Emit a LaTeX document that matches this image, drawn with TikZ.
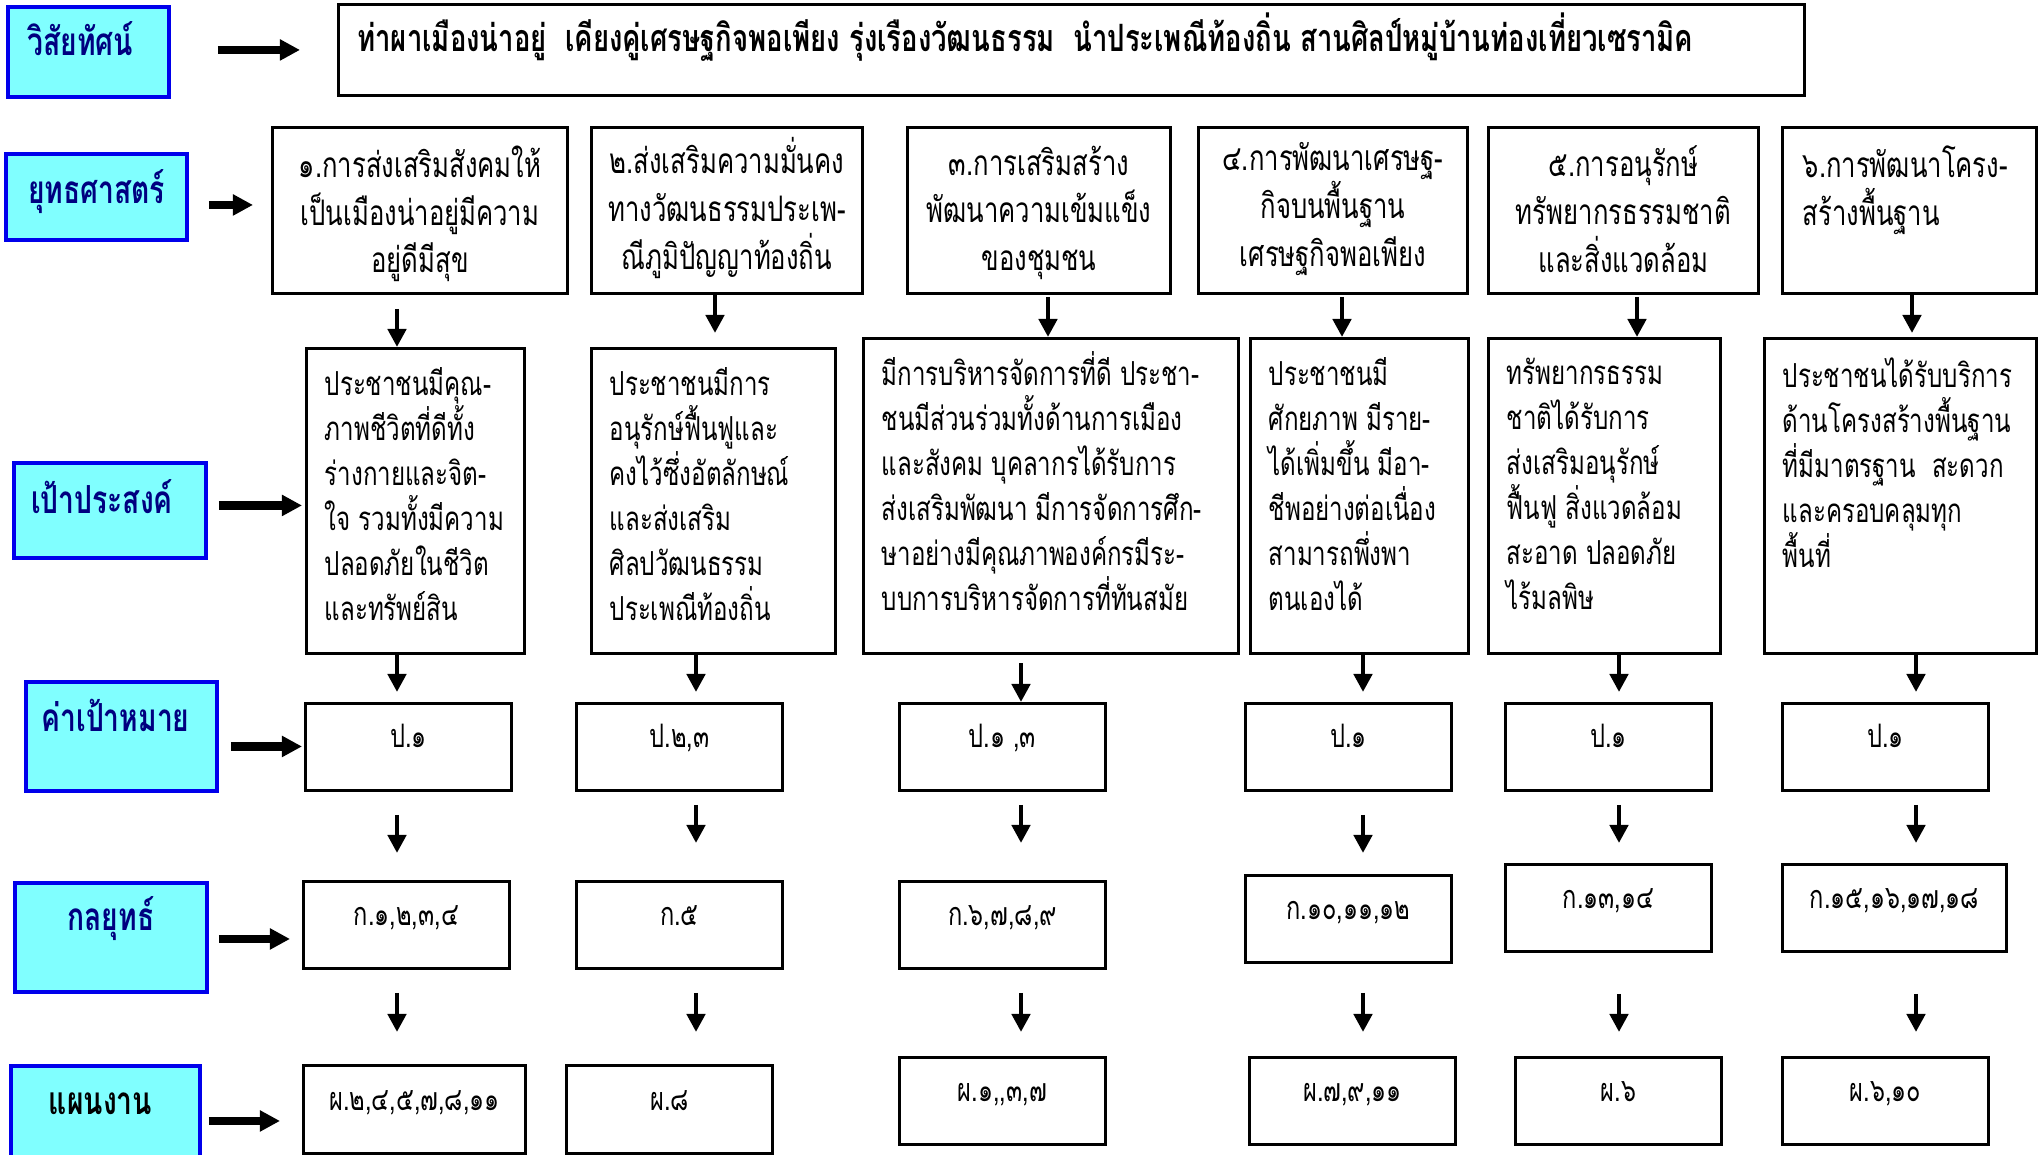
\documentclass[tikz,border=0pt]{standalone}
\usepackage{fontspec}
\newfontfamily\thainarrow[Script=Thai,FakeStretch=0.73]{Loma}
\usepackage{xcolor}
\definecolor{tagcyan}{RGB}{128,255,255}
\definecolor{tagblue}{RGB}{0,0,235}
\definecolor{tagnavy}{RGB}{0,0,128}
\usepackage{tikz}
\usetikzlibrary{arrows.meta}
\newcommand{\heightstrat}{1.66cm}
\newcommand{\heightgoal}{3.15cm}
\newcommand{\widthcode}{2.06cm}
\newcommand{\heightcode}{0.87cm}
\tikzset{
    common/.style={anchor=north west, draw, line width=0.8pt, inner sep=0pt},
    tag/.style={common, draw=tagblue, fill=tagcyan, line width=1.1pt},
    tagtext/.style={font=\thainarrow\bfseries\fontsize{11}{13}\selectfont, text=tagnavy},
    visiontext/.style={font=\thainarrow\bfseries\fontsize{10.7}{12}\selectfont, anchor=west, xshift=0.08cm, yshift=0.13cm},
    stratbox/.style={common, minimum height=\heightstrat},
    strattext/.style={font=\thainarrow\fontsize{10}{13.6}\selectfont, inner sep=0pt, anchor=north, align=center, yshift=-0.19cm,
        execute at begin node={\rule{0pt}{12.5pt}}},
    goalbox/.style={common, minimum height=\heightgoal},
    goaltext/.style={font=\thainarrow\fontsize{9.4}{12.8}\selectfont, inner sep=0pt, anchor=north west, align=left, xshift=0.19cm, yshift=-0.2cm,
        execute at begin node={\rule{0pt}{12pt}}},
    codebox/.style={common, font=\thainarrow\fontsize{9.2}{11}\selectfont, text height=7pt, text depth=6.5pt,
        minimum width=\widthcode, minimum height=\heightcode},
    downarrow/.style={-{Triangle[length=0.18cm, width=0.18cm]}, line width=1.4pt},
    tagarrow/.style={-{Triangle[length=0.2cm, width=0.2cm]}, line width=2.3pt}
}

\begin{document}
\begin{tikzpicture}[x=0.01cm, y=-0.01cm]
    \useasboundingbox (0,0) rectangle (2042,1155);

    % row labels
    \node[tag, minimum width=1.61cm, minimum height=0.90cm, label={[tagtext, xshift=-0.08cm, yshift=0.13cm]center:วิสัยทัศน์}] (tag-vision) at (6,5) {};
    \node[tag, minimum width=1.81cm, minimum height=0.86cm, label={[tagtext, yshift=0.05cm]center:ยุทธศาสตร์}] (tag-strategy) at (4,152) {};
    \node[tag, minimum width=1.92cm, minimum height=0.95cm, label={[tagtext, xshift=-0.08cm, yshift=0.14cm]center:เป้าประสงค์}] (tag-goal) at (12,461) {};
    \node[tag, minimum width=1.91cm, minimum height=1.09cm, label={[tagtext, xshift=-0.06cm, yshift=0.21cm]center:ค่าเป้าหมาย}] (tag-target) at (24,680) {};
    \node[tag, minimum width=1.92cm, minimum height=1.09cm, label={[tagtext, yshift=0.19cm]center:กลยุทธ์}] (tag-tactic) at (13,881) {};
    \node[tag, minimum width=1.89cm, minimum height=1.00cm, label={[tagtext, text=black, xshift=-0.05cm, yshift=0.12cm]center:แผนงาน}] (tag-plan) at (9,1064) {};

    % vision
    \node[common, minimum width=14.65cm, minimum height=0.91cm,
          label={[visiontext]west:ท่าผาเมืองน่าอยู่~ เคียงคู่เศรษฐกิจพอเพียง รุ่งเรืองวัฒนธรรม~ นำประเพณีท้องถิ่น สานศิลป์หมู่บ้านท่องเที่ยวเซรามิค}] (vision) at (337,3) {};

    % strategies
    \node[stratbox, minimum width=2.95cm, label={[strattext]north:{๑.การส่งเสริมสังคมให้\\เป็นเมืองน่าอยู่มีความ\\อยู่ดีมีสุข}}] (strat-1) at (271,126) {};
    \node[stratbox, minimum width=2.71cm, label={[strattext, yshift=0.08cm]north:{๒.ส่งเสริมความมั่นคง\\ทางวัฒนธรรมประเพ-\\ณีภูมิปัญญาท้องถิ่น}}] (strat-2) at (590,126) {};
    \node[stratbox, minimum width=2.63cm, label={[strattext]north:{๓.การเสริมสร้าง\\พัฒนาความเข้มแข็ง\\ของชุมชน}}] (strat-3) at (906,126) {};
    \node[stratbox, minimum width=2.69cm, label={[strattext, yshift=0.03cm]north:{๔.การพัฒนาเศรษฐ-\\กิจบนพื้นฐาน\\เศรษฐกิจพอเพียง}}] (strat-4) at (1197,126) {};
    \node[stratbox, minimum width=2.70cm, label={[strattext]north:{๕.การอนุรักษ์\\ทรัพยากรธรรมชาติ\\และสิ่งแวดล้อม}}] (strat-5) at (1487,126) {};
    \node[stratbox, minimum width=2.54cm, label={[strattext, anchor=north west, align=left, xshift=0.21cm]north west:{๖.การพัฒนาโครง-\\สร้างพื้นฐาน}}] (strat-6) at (1781,126) {};

    % goals
    \node[goalbox, minimum width=2.18cm, minimum height=3.05cm, label={[goaltext]north west:{ประชาชนมีคุณ-\\ภาพชีวิตที่ดีทั้ง\\ร่างกายและจิต-\\ใจ รวมทั้งมีความ\\ปลอดภัยในชีวิต\\และทรัพย์สิน}}] (goal-1) at (305,347) {};
    \node[goalbox, minimum width=2.44cm, minimum height=3.05cm, label={[goaltext]north west:{ประชาชนมีการ\\อนุรักษ์ฟื้นฟูและ\\คงไว้ซึ่งอัตลักษณ์\\และส่งเสริม\\ศิลปวัฒนธรรม\\ประเพณีท้องถิ่น}}] (goal-2) at (590,347) {};
    \node[goalbox, minimum width=3.75cm, label={[goaltext, yshift=0.06cm]north west:{มีการบริหารจัดการที่ดี ประชา-\\ชนมีส่วนร่วมทั้งด้านการเมือง\\และสังคม บุคลากรได้รับการ\\ส่งเสริมพัฒนา มีการจัดการศึก-\\ษาอย่างมีคุณภาพองค์กรมีระ-\\บบการบริหารจัดการที่ทันสมัย}}] (goal-3) at (862,337) {};
    \node[goalbox, minimum width=2.18cm, label={[goaltext]north west:{ประชาชนมี\\ศักยภาพ มีราย-\\ได้เพิ่มขึ้น มีอา-\\ชีพอย่างต่อเนื่อง\\สามารถพึ่งพา\\ตนเองได้}}] (goal-4) at (1249,337) {};
    \node[goalbox, minimum width=2.32cm, label={[goaltext]north west:{ทรัพยากรธรรม\\ชาติได้รับการ\\ส่งเสริมอนุรักษ์\\ฟื้นฟู สิ่งแวดล้อม\\สะอาด ปลอดภัย\\ไร้มลพิษ}}] (goal-5) at (1487,337) {};
    \node[goalbox, minimum width=2.72cm, label={[goaltext]north west:{ประชาชนได้รับบริการ\\ด้านโครงสร้างพื้นฐาน\\ที่มีมาตรฐาน~ สะดวก\\และครอบคลุมทุก\\พื้นที่}}] (goal-6) at (1763,337) {};

    % targets
    \node[codebox] (target-1) at (304,702) {ป.๑};
    \node[codebox] (target-2) at (575,702) {ป.๒,๓};
    \node[codebox] (target-3) at (898,702) {ป.๑ ,๓};
    \node[codebox] (target-4) at (1244,702) {ป.๑};
    \node[codebox] (target-5) at (1504,702) {ป.๑};
    \node[codebox] (target-6) at (1781,702) {ป.๑};

    % tactics
    \node[codebox] (tactic-1) at (302,880) {ก.๑,๒,๓,๔};
    \node[codebox] (tactic-2) at (575,880) {ก.๕};
    \node[codebox] (tactic-3) at (898,880) {ก.๖,๗,๘,๙};
    \node[codebox] (tactic-4) at (1244,874) {ก.๑๐,๑๑,๑๒};
    \node[codebox] (tactic-5) at (1504,863) {ก.๑๓,๑๔};
    \node[codebox, minimum width=2.24cm] (tactic-6) at (1781,863) {ก.๑๕,๑๖,๑๗,๑๘};

    % plans
    \node[codebox, minimum width=2.22cm, minimum height=0.88cm] (plan-1) at (302,1064) {ผ.๒,๔,๕,๗,๘,๑๑};
    \node[codebox, minimum height=0.88cm] (plan-2) at (565,1064) {ผ.๘};
    \node[codebox] (plan-3) at (898,1056) {ผ.๑,,๓,๗};
    \node[codebox] (plan-4) at (1248,1056) {ผ.๗,๙,๑๑};
    \node[codebox] (plan-5) at (1514,1056) {ผ.๖};
    \node[codebox] (plan-6) at (1781,1056) {ผ.๖,๑๐};

    % label arrows
    \coordinate (vision-out) at ([yshift=0.02cm]tag-vision.east);
    \coordinate (strategy-out) at ([yshift=-0.08cm]tag-strategy.east);
    \coordinate (goal-out) at ([yshift=0.05cm]tag-goal.east);
    \coordinate (target-out) at ([yshift=-0.10cm]tag-target.east);
    \coordinate (tactic-out) at ([yshift=-0.015cm]tag-tactic.east);
    \coordinate (plan-out) at ([yshift=-0.05cm]tag-plan.east);
    \draw[tagarrow, shorten <=0.47cm, shorten >=0.37cm] (vision-out) -- (vision-out -| vision.west);
    \draw[tagarrow, shorten <=0.20cm, shorten >=0.18cm] (strategy-out) -- (strategy-out -| strat-1.west);
    \draw[tagarrow, shorten <=0.11cm, shorten >=0.03cm] (goal-out) -- (goal-out -| goal-1.west);
    \draw[tagarrow, shorten <=0.12cm, shorten >=0.02cm] (target-out) -- (target-out -| target-1.west);
    \draw[tagarrow, shorten <=0.10cm, shorten >=0.12cm] (tactic-out) -- (tactic-out -| tactic-1.west);
    \draw[tagarrow, shorten <=0.07cm, shorten >=0.22cm] (plan-out) -- (plan-out -| plan-1.west);

    % columns
    \coordinate (up-1) at (397,0);
    \coordinate (up-2) at (715,0);
    \coordinate (up-3) at (1048,0);
    \coordinate (up-4) at (1342,0);
    \coordinate (up-5) at (1637,0);
    \coordinate (up-6) at (1912,0);
    \coordinate (col-1) at (397,0);
    \coordinate (col-2) at (696,0);
    \coordinate (col-3) at (1021,0);
    \coordinate (col-4) at (1363,0);
    \coordinate (col-5) at (1619,0);
    \coordinate (col-6) at (1916,0);

    % strategy -> goal
    \draw[downarrow, shorten <=0.14cm] (strat-1.south -| up-1) -- (goal-1.north -| up-1);
    \draw[downarrow, shorten >=0.14cm] (strat-2.south -| up-2) -- (goal-2.north -| up-2);
    \draw[downarrow, shorten <=0.02cm] (strat-3.south -| up-3) -- (goal-3.north -| up-3);
    \draw[downarrow, shorten <=0.02cm] (strat-4.south -| up-4) -- (goal-4.north -| up-4);
    \draw[downarrow, shorten <=0.02cm] (strat-5.south -| up-5) -- (goal-5.north -| up-5);
    \draw[downarrow, shorten >=0.04cm] (strat-6.south -| up-6) -- (goal-6.north -| up-6);

    % goal -> target
    \draw[downarrow, shorten >=0.10cm] (goal-1.south -| col-1) -- (target-1.north -| col-1);
    \draw[downarrow, shorten >=0.10cm] (goal-2.south -| col-2) -- (target-2.north -| col-2);
    \draw[downarrow, shorten <=0.08cm] (goal-3.south -| col-3) -- (target-3.north -| col-3);
    \draw[downarrow, shorten >=0.10cm] (goal-4.south -| col-4) -- (target-4.north -| col-4);
    \draw[downarrow, shorten >=0.10cm] (goal-5.south -| col-5) -- (target-5.north -| col-5);
    \draw[downarrow, shorten >=0.10cm] (goal-6.south -| col-6) -- (target-6.north -| col-6);

    % target -> tactic
    \draw[downarrow, shorten <=0.23cm, shorten >=0.27cm] (target-1.south -| col-1) -- (tactic-1.north -| col-1);
    \draw[downarrow, shorten <=0.13cm, shorten >=0.37cm] (target-2.south -| col-2) -- (tactic-2.north -| col-2);
    \draw[downarrow, shorten <=0.13cm, shorten >=0.37cm] (target-3.south -| col-3) -- (tactic-3.north -| col-3);
    \draw[downarrow, shorten <=0.23cm, shorten >=0.21cm] (target-4.south -| col-4) -- (tactic-4.north -| col-4);
    \draw[downarrow, shorten <=0.13cm, shorten >=0.20cm] (target-5.south -| col-5) -- (tactic-5.north -| col-5);
    \draw[downarrow, shorten <=0.13cm, shorten >=0.20cm] (target-6.south -| col-6) -- (tactic-6.north -| col-6);

    % tactic -> plan
    \draw[downarrow, shorten <=0.23cm, shorten >=0.32cm] (tactic-1.south -| col-1) -- (plan-1.north -| col-1);
    \draw[downarrow, shorten <=0.23cm, shorten >=0.32cm] (tactic-2.south -| col-2) -- (plan-2.north -| col-2);
    \draw[downarrow, shorten <=0.23cm, shorten >=0.24cm] (tactic-3.south -| col-3) -- (plan-3.north -| col-3);
    \draw[downarrow, shorten <=0.29cm, shorten >=0.24cm] (tactic-4.south -| col-4) -- (plan-4.north -| col-4);
    \draw[downarrow, shorten <=0.41cm, shorten >=0.24cm] (tactic-5.south -| col-5) -- (plan-5.north -| col-5);
    \draw[downarrow, shorten <=0.41cm, shorten >=0.24cm] (tactic-6.south -| col-6) -- (plan-6.north -| col-6);
\end{tikzpicture}
\end{document}
